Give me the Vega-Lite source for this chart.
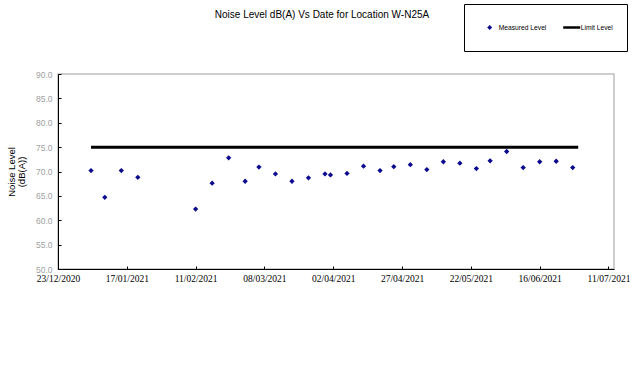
{
  "$schema": "https://vega.github.io/schema/vega-lite/v6.json",
  "autosize": {"type": "none"},
  "padding": {"left": 58, "top": 74, "right": 28, "bottom": 106},
  "width": 556,
  "height": 195,
  "background": "white",
  "config": {
    "view": {"stroke": "#bfbfbf", "strokeWidth": 1.5},
    "font": "Liberation Sans"
  },
  "title": {
    "text": "Noise Level dB(A) Vs Date for Location W-N25A",
    "font": "Liberation Sans",
    "fontSize": 10,
    "fontWeight": "normal",
    "color": "black",
    "anchor": "middle",
    "frame": "group",
    "dx": -14,
    "offset": -16
  },
  "data": {
    "values": [
      {"date": "2021-01-04", "level": 70.2, "series": "Measured Level"},
      {"date": "2021-01-09", "level": 64.7, "series": "Measured Level"},
      {"date": "2021-01-15", "level": 70.2, "series": "Measured Level"},
      {"date": "2021-01-21", "level": 68.8, "series": "Measured Level"},
      {"date": "2021-02-11", "level": 62.3, "series": "Measured Level"},
      {"date": "2021-02-17", "level": 67.6, "series": "Measured Level"},
      {"date": "2021-02-23", "level": 72.8, "series": "Measured Level"},
      {"date": "2021-03-01", "level": 68.0, "series": "Measured Level"},
      {"date": "2021-03-06", "level": 70.9, "series": "Measured Level"},
      {"date": "2021-03-12", "level": 69.5, "series": "Measured Level"},
      {"date": "2021-03-18", "level": 68.0, "series": "Measured Level"},
      {"date": "2021-03-24", "level": 68.7, "series": "Measured Level"},
      {"date": "2021-03-30", "level": 69.5, "series": "Measured Level"},
      {"date": "2021-04-01", "level": 69.3, "series": "Measured Level"},
      {"date": "2021-04-07", "level": 69.6, "series": "Measured Level"},
      {"date": "2021-04-13", "level": 71.1, "series": "Measured Level"},
      {"date": "2021-04-19", "level": 70.2, "series": "Measured Level"},
      {"date": "2021-04-24", "level": 71.0, "series": "Measured Level"},
      {"date": "2021-04-30", "level": 71.4, "series": "Measured Level"},
      {"date": "2021-05-06", "level": 70.4, "series": "Measured Level"},
      {"date": "2021-05-12", "level": 72.0, "series": "Measured Level"},
      {"date": "2021-05-18", "level": 71.7, "series": "Measured Level"},
      {"date": "2021-05-24", "level": 70.6, "series": "Measured Level"},
      {"date": "2021-05-29", "level": 72.2, "series": "Measured Level"},
      {"date": "2021-06-04", "level": 74.1, "series": "Measured Level"},
      {"date": "2021-06-10", "level": 70.8, "series": "Measured Level"},
      {"date": "2021-06-16", "level": 72.0, "series": "Measured Level"},
      {"date": "2021-06-22", "level": 72.1, "series": "Measured Level"},
      {"date": "2021-06-28", "level": 70.8, "series": "Measured Level"},
      {"date": "2021-01-04", "level": 75, "series": "Limit Level"},
      {"date": "2021-06-30", "level": 75, "series": "Limit Level"}
    ]
  },
  "encoding": {
    "x": {
      "field": "date",
      "type": "temporal",
      "scale": {
        "type": "utc",
        "domain": [
          {"year": 2020, "month": 12, "date": 23, "utc": true},
          {"year": 2021, "month": 7, "date": 13, "utc": true}
        ]
      },
      "axis": {
        "title": null,
        "values": [
          {"year": 2020, "month": 12, "date": 23, "utc": true},
          {"year": 2021, "month": 1, "date": 17, "utc": true},
          {"year": 2021, "month": 2, "date": 11, "utc": true},
          {"year": 2021, "month": 3, "date": 8, "utc": true},
          {"year": 2021, "month": 4, "date": 2, "utc": true},
          {"year": 2021, "month": 4, "date": 27, "utc": true},
          {"year": 2021, "month": 5, "date": 22, "utc": true},
          {"year": 2021, "month": 6, "date": 16, "utc": true},
          {"year": 2021, "month": 7, "date": 11, "utc": true}
        ],
        "labelExpr": "utcFormat(datum.value, '%d/%m/%Y')",
        "grid": false,
        "domainColor": "black",
        "domainWidth": 1,
        "tickColor": "black",
        "tickSize": -3,
        "labelPadding": 7,
        "labelFont": "Liberation Serif",
        "labelFontSize": 9.5,
        "labelColor": "black",
        "labelFlush": false,
        "labelOverlap": false
      }
    },
    "y": {
      "field": "level",
      "type": "quantitative",
      "scale": {"domain": [50, 90], "zero": false, "nice": false},
      "axis": {
        "title": ["Noise Level", "(dB(A))"],
        "titleFont": "Liberation Sans",
        "titleFontSize": 9.5,
        "titleFontWeight": "normal",
        "titleColor": "black",
        "titlePadding": 9,
        "titleLineHeight": 10,
        "values": [50, 55, 60, 65, 70, 75, 80, 85, 90],
        "format": ".1f",
        "grid": false,
        "domainColor": "black",
        "domainWidth": 1,
        "tickColor": "black",
        "tickSize": -3,
        "labelPadding": 9,
        "labelFont": "Liberation Sans",
        "labelFontSize": 8.5,
        "labelColor": "#a0a0a0"
      }
    },
    "color": {
      "field": "series",
      "type": "nominal",
      "scale": {"domain": ["Measured Level", "Limit Level"], "range": ["#0b0b8f", "black"]},
      "legend": {
        "title": null,
        "orient": "none",
        "legendX": 406,
        "legendY": -70,
        "direction": "horizontal",
        "padding": 14,
        "clipHeight": 19,
        "strokeColor": "black",
        "fillColor": "white",
        "symbolOffset": 8.35,
        "labelOffset": 5.7,
        "columnPadding": 13,
        "labelFont": "Liberation Sans",
        "labelFontSize": 6.7,
        "labelColor": "black",
        "encode": {
          "symbols": {
            "update": {
              "shape": {"signal": "datum.value === 'Limit Level' ? 'stroke' : 'diamond'"},
              "size": {"signal": "datum.value === 'Limit Level' ? 289 : 25"},
              "strokeWidth": {"signal": "datum.value === 'Limit Level' ? 2.5 : 0"},
              "stroke": {"signal": "datum.value === 'Limit Level' ? 'black' : '#0b0b8f'"},
              "fill": {"signal": "datum.value === 'Limit Level' ? 'transparent' : '#0b0b8f'"}
            }
          }
        }
      }
    }
  },
  "layer": [
    {
      "transform": [{"filter": "datum.series === 'Limit Level'"}],
      "mark": {"type": "line", "strokeWidth": 3},
      "encoding": {}
    },
    {
      "transform": [{"filter": "datum.series === 'Measured Level'"}],
      "mark": {"type": "point", "shape": "diamond", "filled": true, "size": 28, "opacity": 1},
      "encoding": {}
    }
  ]
}
